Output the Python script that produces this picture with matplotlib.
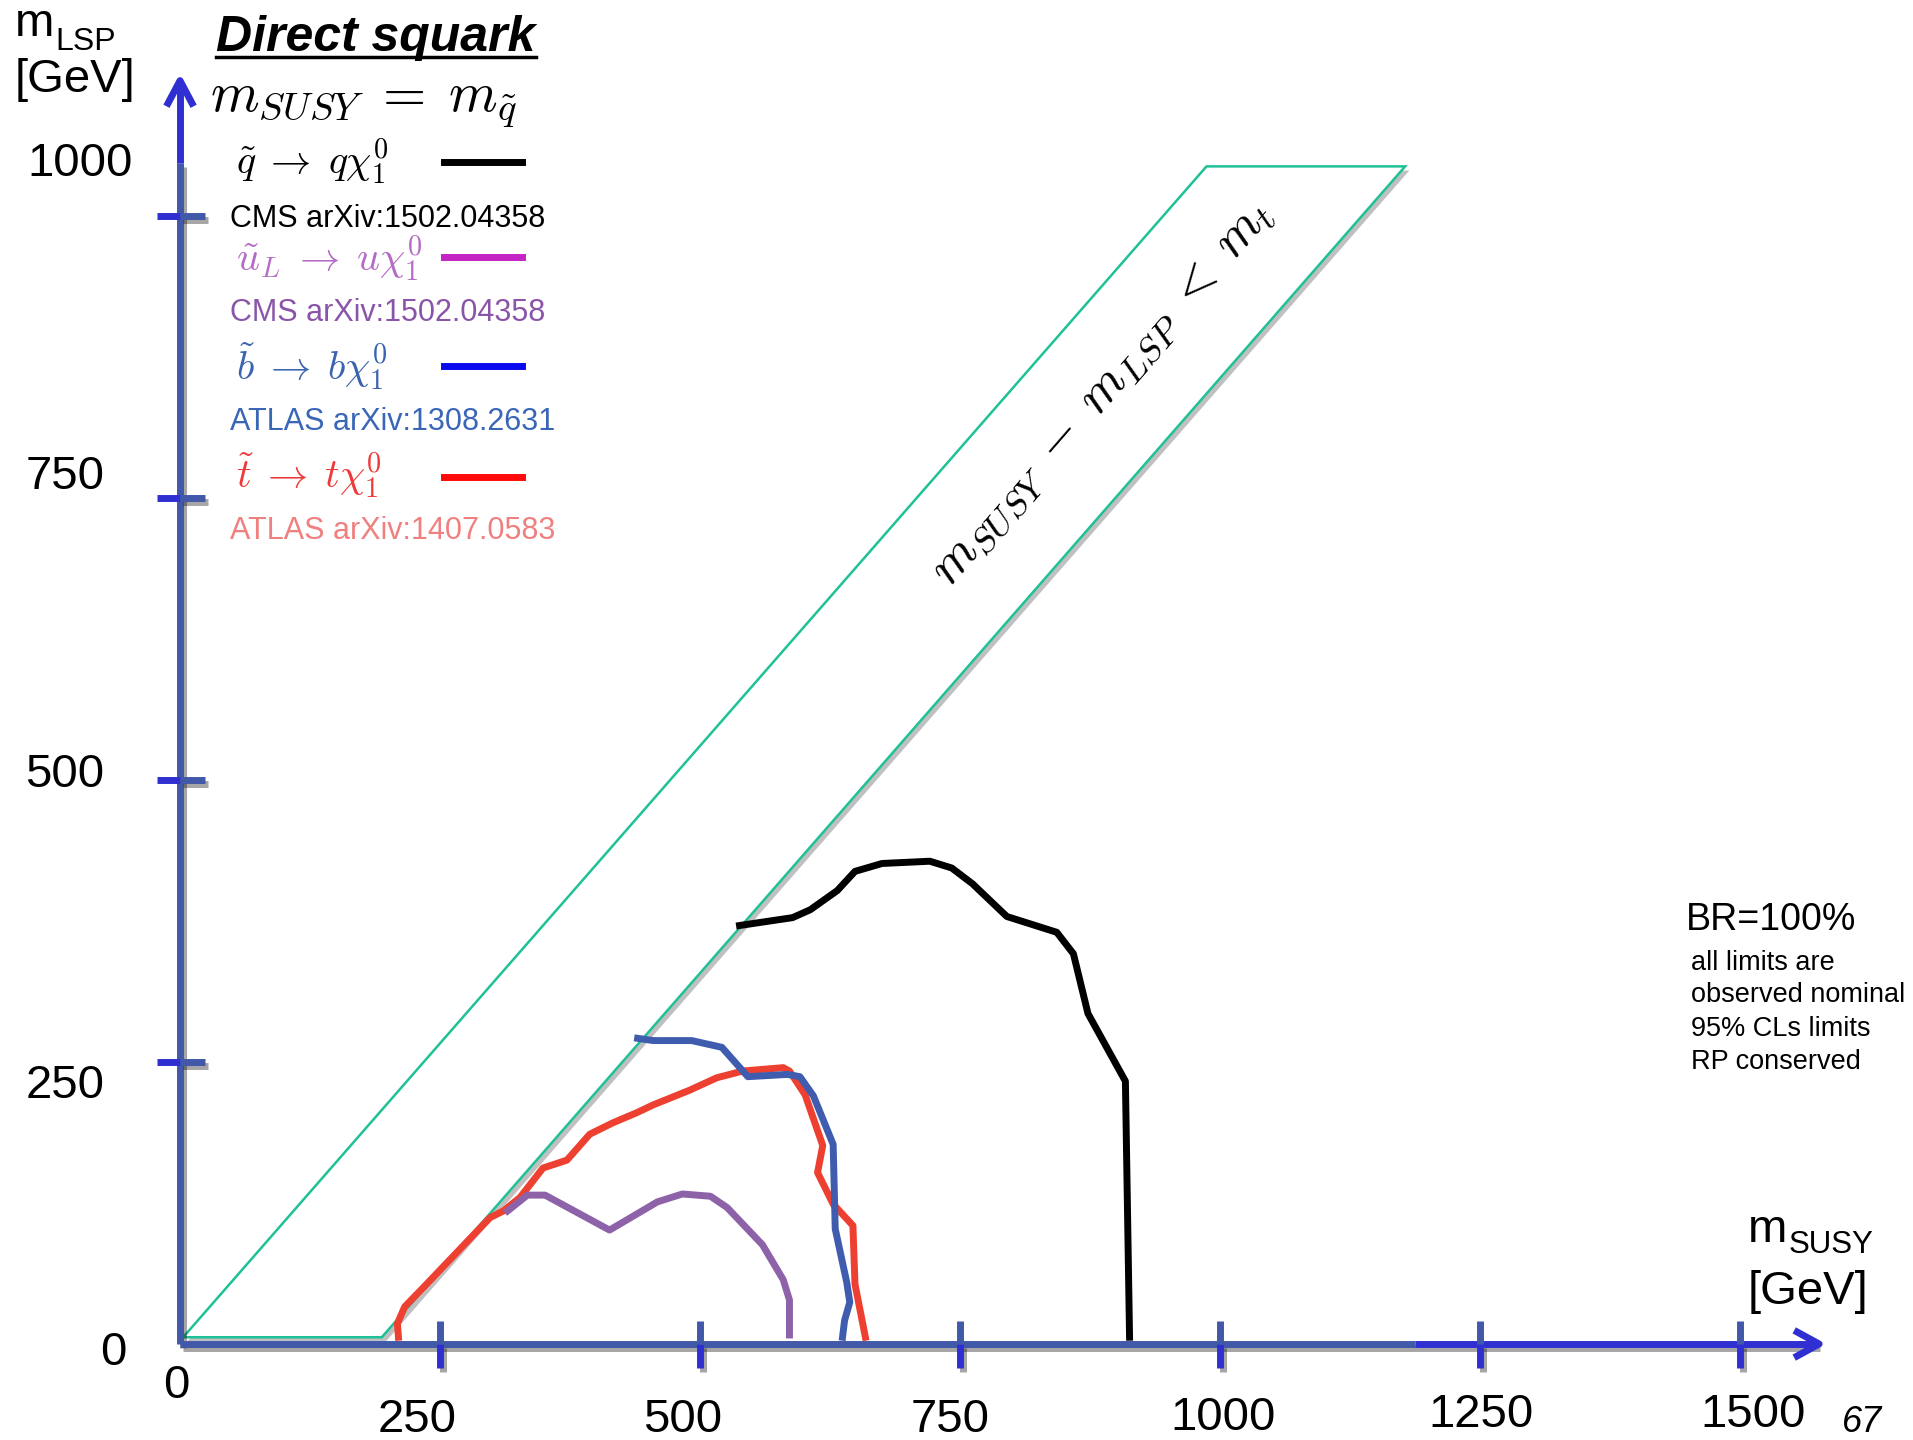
import matplotlib
matplotlib.use("Agg")
import matplotlib.pyplot as plt
import matplotlib.patheffects as pe
from matplotlib.patches import Polygon
from matplotlib.lines import Line2D

plt.rcParams['font.family'] = ['Liberation Sans', 'DejaVu Sans']
plt.rcParams['mathtext.fontset'] = 'cm'

W, H = 1913, 1440

# axis ticks (GeV)
x_ticks = [250, 500, 750, 1000, 1250, 1500]
y_ticks = [250, 500, 750, 1000]

# m_SUSY - m_LSP < m_t band corners (GeV)
band_x = [3, 194, 1178, 987]
band_y = [6, 6, 1044, 1044]

# observed limit contours (m_SUSY, m_LSP) in GeV
sq_x = [538, 589, 606, 632, 649, 675, 721, 742, 762, 795, 843, 859, 873, 909, 913]
sq_y = [371, 378, 385, 402, 419, 426, 428, 422, 408, 379, 365, 346, 293, 233, 6]

ul_x = [315, 334, 351, 413, 459, 483, 510, 526, 560, 580, 586, 586]
ul_y = [118, 132, 132, 101, 126, 133, 131, 121, 88, 57, 39, 8]

sb_x = [440, 455, 492, 521, 546, 584, 596, 609, 628, 630, 641, 644, 639, 637]
sb_y = [271, 269, 269, 263, 237, 239, 237, 220, 177, 102, 55, 37, 21, 6]

st_x = [210, 209, 216, 237, 298, 311, 327, 349, 372, 394, 416, 439, 455, 490,
        516, 541, 580, 586, 601, 618, 613, 628, 647, 649, 659]
st_y = [6, 18, 33, 53, 112, 118, 130, 156, 163, 186, 196, 205, 212, 225,
        236, 242, 245, 242, 221, 176, 152, 124, 105, 53, 6]


def fx(px):
    return px / W


def fy(py):
    return 1 - py / H


fig = plt.figure(figsize=(W / 100, H / 100), dpi=100)
ax = fig.add_axes([0, 0, 1, 1])
ax.set_xlim(-173.1, 1666.3)
ax.set_ylim(-85.1, 1191.5)
ax.axis("off")

slate = '#4159a8'
bright = '#3030d2'
shadow = [pe.SimpleLineShadow(offset=(2, -3), alpha=0.35), pe.Normal()]

# band
band = Polygon(list(zip(band_x, band_y)), closed=True, facecolor='white',
               edgecolor='#1fc196', lw=1.8, zorder=2,
               path_effects=[pe.SimplePatchShadow(offset=(3, -3), alpha=0.35), pe.Normal()])
ax.add_patch(band)
ax.text(885, 845, r'$m_{SUSY} \;-\; m_{LSP} \;<\; m_t$', rotation=49, rotation_mode='anchor',
        ha='center', va='center', fontsize=38, color='black', zorder=3)

# curves
lw = 5
ax.plot(sq_x, sq_y, color='black', lw=lw, zorder=4)
ax.plot(st_x, st_y, color='#ee4030', lw=lw, zorder=4)
ax.plot(ul_x, ul_y, color='#8e62a8', lw=lw, zorder=5)
ax.plot(sb_x, sb_y, color='#3f5cae', lw=lw, zorder=5)

# axes with arrows
ax.plot([0, 0], [0, 1047], color=slate, lw=5, zorder=6, path_effects=shadow,
        solid_capstyle='butt')
ax.plot([0, 0], [1047, 1118], color=bright, lw=5, zorder=6, solid_capstyle='butt')
ax.plot([-11.5, 0, 11.5], [1100, 1120, 1100], color=bright, lw=5, zorder=6)
ax.plot([0, 1187], [0, 0], color=slate, lw=5, zorder=6, path_effects=shadow,
        solid_capstyle='butt')
ax.plot([1187, 1574], [0, 0], color=bright, lw=5, zorder=6, path_effects=shadow,
        solid_capstyle='butt')
ax.plot([1555, 1576, 1555], [10.6, 0, -10.6], color=bright, lw=5, zorder=6)

for t in y_ticks:
    ax.plot([-22, 0], [t, t], color=bright, lw=5, zorder=7, solid_capstyle='butt')
    ax.plot([0, 24], [t, t], color=slate, lw=5, zorder=7, solid_capstyle='butt',
            path_effects=shadow)
for t in x_ticks:
    ax.plot([t, t], [0, -21], color=bright, lw=5, zorder=7, solid_capstyle='butt',
            path_effects=shadow)
    ax.plot([t, t], [0, 20], color=slate, lw=5, zorder=7, solid_capstyle='butt')

# tick labels (positions in figure pixels)
ytick_pos = {1000: (80, 176), 750: (65, 489), 500: (65, 787), 250: (65, 1098)}
for t in y_ticks:
    px, py = ytick_pos[t]
    fig.text(fx(px), fy(py), str(t), ha='center', va='baseline', fontsize=34)
fig.text(fx(113), fy(1365), '0', ha='center', va='baseline', fontsize=34)
fig.text(fx(176), fy(1398), '0', ha='center', va='baseline', fontsize=34)
xtick_pos = {250: (417, 1432), 500: (683, 1432), 750: (950, 1432),
             1000: (1223, 1430), 1250: (1481, 1427), 1500: (1753, 1427)}
for t in x_ticks:
    px, py = xtick_pos[t]
    fig.text(fx(px), fy(py), str(t), ha='center', va='baseline', fontsize=34)
fig.text(fx(1842), fy(1432), '67', ha='left', va='baseline', fontsize=26, style='italic')

# axis titles
fig.text(fx(15), fy(36), 'm', ha='left', va='baseline', fontsize=34)
fig.text(fx(55), fy(50), 'LSP', ha='left', va='baseline', fontsize=23)
fig.text(fx(15), fy(80), '[GeV]', ha='left', va='center', fontsize=34)
fig.text(fx(1748), fy(1242), 'm', ha='left', va='baseline', fontsize=34)
fig.text(fx(1789), fy(1253), 'SUSY', ha='left', va='baseline', fontsize=22.5)
fig.text(fx(1748), fy(1292), '[GeV]', ha='left', va='center', fontsize=34)

# title and legend
fig.text(fx(216), fy(51), 'Direct squark', ha='left', va='baseline', fontsize=36,
         fontweight='bold', style='italic')
fig.add_artist(Line2D([fx(216), fx(536)], [fy(57), fy(57)], lw=2.5, color='black'))
fig.text(fx(210), fy(111), r'$m_{SUSY} \;=\; m_{\tilde{q}}$', ha='left', va='baseline',
         fontsize=40)

legend_entries = [
    (r'$\tilde{q} \;\rightarrow\; q\chi_1^0$', 'CMS arXiv:1502.04358', 'black', 'black', 'black'),
    (r'$\tilde{u}_L \;\rightarrow\; u\chi_1^0$', 'CMS arXiv:1502.04358', '#b46cc4', '#8a55a8', '#c424c4'),
    (r'$\tilde{b} \;\rightarrow\; b\chi_1^0$', 'ATLAS arXiv:1308.2631', '#3a64b0', '#3a66b8', '#0a0aee'),
    (r'$\tilde{t} \;\rightarrow\; t\chi_1^0$', 'ATLAS arXiv:1407.0583', '#ee3a3a', '#f08080', '#ff0a0a'),
]
math_y = [162, 259, 366, 476]
ref_y = [227, 321, 430, 539]
line_y = [162, 257, 366, 477]
for (lab, ref, c1, c2, lc), my, ry, ly in zip(legend_entries, math_y, ref_y, line_y):
    fig.text(fx(236), fy(my), lab, ha='left', va='center', fontsize=29, color=c1)
    fig.text(fx(230), fy(ry), ref, ha='left', va='baseline', fontsize=22, color=c2)
    fig.add_artist(Line2D([fx(444), fx(522)], [fy(ly), fy(ly)], lw=5, color=lc))

# note
fig.text(fx(1686), fy(930), 'BR=100%', ha='left', va='baseline', fontsize=27)
for txt, by in zip(['all limits are', 'observed nominal', '95% CLs limits', 'RP conserved'],
                   [970, 1002, 1036, 1069]):
    fig.text(fx(1691), fy(by), txt, ha='left', va='baseline', fontsize=19.5)

fig.savefig("out.png", dpi=100, facecolor='white')
